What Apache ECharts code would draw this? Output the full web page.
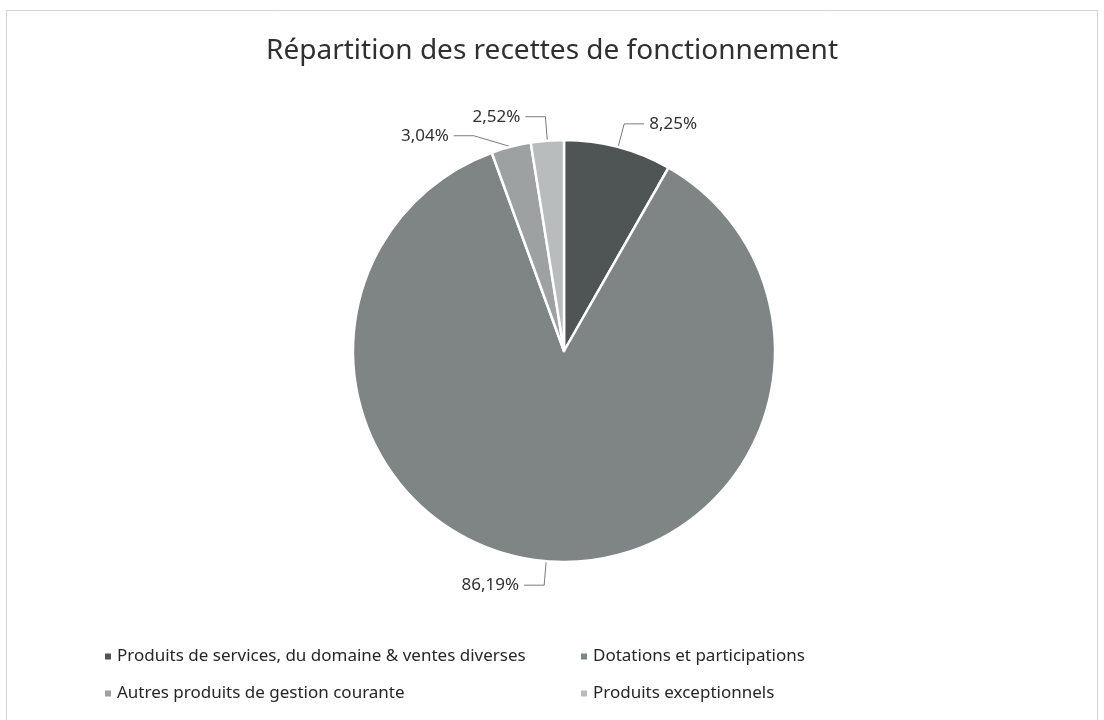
<!DOCTYPE html>
<html>
<head>
<meta charset="utf-8">
<script src="https://cdn.jsdelivr.net/npm/echarts@6/dist/echarts.min.js"></script>
<style>
html,body{margin:0;padding:0;background:#fff;}
#chart{width:1104px;height:720px;}
</style>
</head>
<body>
<div id="chart"></div>
<script>
var categories = [
  "Produits de services, du domaine & ventes diverses",
  "Dotations et participations",
  "Autres produits de gestion courante",
  "Produits exceptionnels"
];
var values = [8.25, 86.19, 3.04, 2.52];
var colors = ["#4f5454", "#7f8484", "#9da1a1", "#b9bcbc"];
var titleText = "Répartition des recettes de fonctionnement";

var chart = echarts.init(document.getElementById('chart'));
var data = categories.map(function (c, i) {
  return { name: c, value: values[i], itemStyle: { color: colors[i] } };
});
var font = "'Noto Sans', 'Open Sans', sans-serif";
function fmt(p) { return p.value.toFixed(2).replace('.', ',') + '%'; }

chart.setOption({
  backgroundColor: '#ffffff',
  animation: false,
  title: {
    text: titleText,
    left: 'center',
    top: 32,
    textStyle: { fontFamily: font, fontSize: 28, fontWeight: 'normal', color: '#303030' }
  },
  legend: [
    {
      data: [categories[0], categories[2]],
      orient: 'vertical',
      left: 98,
      top: 643,
      itemGap: 20,
      itemWidth: 8,
      itemHeight: 8,
      icon: 'rect',
      textStyle: { fontFamily: font, fontSize: 17, color: '#262626' }
    },
    {
      data: [categories[1], categories[3]],
      orient: 'vertical',
      left: 574,
      top: 643,
      itemGap: 20,
      itemWidth: 8,
      itemHeight: 8,
      icon: 'rect',
      textStyle: { fontFamily: font, fontSize: 17, color: '#262626' }
    }
  ],
  graphic: [{
    type: 'rect',
    shape: { x: 6.5, y: 10.5, width: 1091, height: 720 },
    style: { fill: 'none', stroke: '#d4d4d4', lineWidth: 1 },
    silent: true
  }],
  series: [{
    type: 'pie',
    center: [564, 351],
    radius: [0, 211],
    startAngle: 90,
    clockwise: true,
    data: data,
    itemStyle: { borderColor: '#ffffff', borderWidth: 2.5 },
    label: {
      show: true,
      position: 'outside',
      formatter: fmt,
      fontFamily: font,
      fontSize: 17,
      color: '#303030'
    },
    labelLine: {
      show: true,
      length: 24,
      length2: 20,
      lineStyle: { color: '#7a7a7a', width: 1 }
    },
    emphasis: { disabled: true }
  }]
});
</script>
</body>
</html>
